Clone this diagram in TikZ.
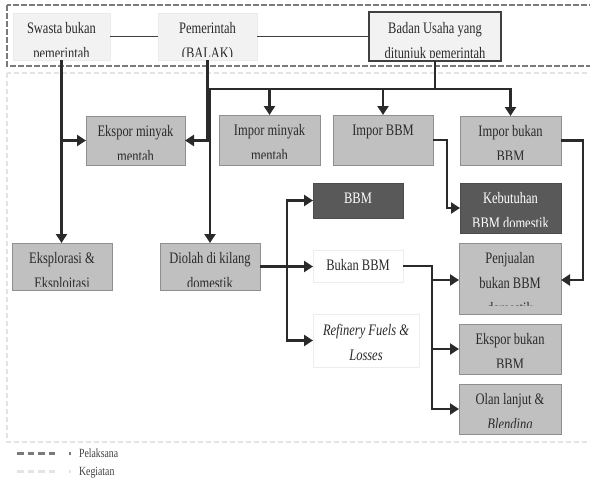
\documentclass[tikz,border=0pt]{standalone}
\usepackage{fontspec}
\setmainfont{Liberation Serif}[FakeStretch=0.78]
\usetikzlibrary{arrows.meta}
\definecolor{lightbox}{HTML}{F2F2F2}
\definecolor{midbox}{HTML}{C0C0C0}
\definecolor{midedge}{HTML}{8F8F8F}
\definecolor{boxdark}{HTML}{595959}
\definecolor{lineclr}{HTML}{2A2A2A}
\definecolor{txtclr}{HTML}{2A2A2A}
\definecolor{pelclr}{HTML}{7A7A7A}
\definecolor{kegclr}{HTML}{E4E4E4}
\tikzset{
  base box/.style={anchor=north west, inner sep=0pt, outer sep=0pt},
  topbox/.style={base box, fill=lightbox, draw=lightbox!97!black, line width=0.6pt},
  topbox edge/.style={base box, fill=lightbox, draw=black!75, line width=1.2pt},
  graybox/.style={base box, fill=midbox, draw=midedge, line width=1pt},
  darkbox/.style={base box, fill=boxdark, draw=black!70, line width=1pt},
  whitebox/.style={base box, fill=white, draw=black!7, line width=1pt},
  txt/.style={anchor=base, inner sep=0pt, text=txtclr, font=\fontsize{16}{18}\selectfont},
  wtxt/.style={txt, text=white},
  itxt/.style={txt, font=\fontsize{16}{18}\selectfont\itshape},
  legtxt/.style={anchor=base west, inner sep=0pt, text=black!75, font=\fontsize{12.5}{14}\selectfont},
  conn/.style={draw=lineclr, line width=2.7pt},
  arr/.style={conn, -{Triangle[length=9pt,width=11pt]}},
  thinline/.style={draw=black!75, line width=1.2pt},
}
\newcommand{\mkbox}[6]{\node[#6, minimum width=#4pt, minimum height=#5pt] (#1) at (#2,#3) {};}
\newcommand{\twolines}[4]{%
  \begin{scope}
    \clip (#1.north west) rectangle ([yshift=-43.5pt]#1.north east);
    \node[#4] (#1-a) at ([yshift=-20pt]#1.north) {#2};
    \node[#4] (#1-b) at ([yshift=-45pt]#1.north) {#3};
  \end{scope}}
\newcommand{\oneline}[3]{\node[#3] (#1-a) at ([yshift=-20pt]#1.north) {#2};}
\begin{document}
\begin{tikzpicture}[x=1pt,y=-1pt]
\useasboundingbox (0,0) rectangle (590,479);
\clip (0,0) rectangle (590,479);
\fill[white] (0,0) rectangle (590,479);

% frames
\draw[pelclr, line width=2.2pt, dash pattern=on 6pt off 2pt] (7,5) rectangle (600,66);
\draw[kegclr, line width=2pt, dash pattern=on 5pt off 3pt] (7,73) rectangle (600,442);

% boxes
\mkbox{swasta}{13}{13}{97}{47}{topbox}
\mkbox{pem}{158}{13}{99}{47}{topbox}
\mkbox{badan}{369}{12}{132}{49}{topbox edge}
\mkbox{eksmin}{86}{116}{99}{49}{graybox}
\mkbox{impmin}{219}{115}{101}{50}{graybox}
\mkbox{impbbm}{333}{115}{100}{50}{graybox}
\mkbox{impbuk}{460}{116}{101}{49}{graybox}
\mkbox{bbm}{313}{183}{90}{35}{darkbox}
\mkbox{kebut}{460}{183}{101}{50}{darkbox}
\mkbox{eksplor}{12}{243}{100}{47}{graybox}
\mkbox{diolah}{160}{243}{100}{47}{graybox}
\mkbox{bukan}{313}{250}{90}{32}{whitebox}
\mkbox{penj}{459}{243}{102}{71}{graybox}
\mkbox{refin}{313}{314}{106}{53}{whitebox}
\mkbox{eksbuk}{459}{324}{102}{50}{graybox}
\mkbox{olan}{459}{384}{102}{50}{graybox}

% texts
\twolines{swasta}{Swasta bukan}{pemerintah}{txt}
\twolines{pem}{Pemerintah}{(BALAK)}{txt}
\begin{scope}
  \clip (badan.north west) rectangle ([yshift=-45pt]badan.north east);
  \node[txt] (badan-a) at ([yshift=-21pt]badan.north) {Badan Usaha yang};
  \node[txt] (badan-b) at ([yshift=-46.5pt]badan.north) {ditunjuk pemerintah};
\end{scope}
\twolines{eksmin}{Ekspor minyak}{mentah}{txt}
\twolines{impmin}{Impor minyak}{mentah}{txt}
\oneline{impbbm}{Impor BBM}{txt}
\twolines{impbuk}{Impor bukan}{BBM}{txt}
\oneline{bbm}{BBM}{wtxt}
\twolines{kebut}{Kebutuhan}{BBM domestik}{wtxt}
\twolines{eksplor}{Eksplorasi \&}{Eksploitasi}{txt}
\twolines{diolah}{Diolah di kilang}{domestik}{txt}
\oneline{bukan}{Bukan BBM}{txt}
\begin{scope}
  \clip (penj.north west) rectangle ([yshift=-62pt]penj.north east);
  \node[txt] (penj-a) at ([yshift=-20pt]penj.north) {Penjualan};
  \node[txt] (penj-b) at ([yshift=-45pt]penj.north) {bukan BBM};
  \node[txt] (penj-c) at ([yshift=-70pt]penj.north) {domestik};
\end{scope}
\node[itxt] (refin-a) at ([yshift=-21pt]refin.north) {Refinery Fuels \&};
\node[itxt] (refin-b) at ([yshift=-46pt]refin.north) {Losses};
\twolines{eksbuk}{Ekspor bukan}{BBM}{txt}
\begin{scope}
  \clip (olan.north west) rectangle ([yshift=-43.5pt]olan.north east);
  \node[txt] (olan-a) at ([yshift=-20pt]olan.north) {Olan lanjut \&};
  \node[itxt] (olan-b) at ([yshift=-45pt]olan.north) {Blending};
\end{scope}

% top thin connectors
\draw[thinline] (swasta.east) -- (pem.west);
\draw[thinline] (pem.east) -- (badan.west);

% swasta
\draw[arr] (swasta.south) -- (swasta.south |- eksplor.north);
\draw[arr] (swasta.south |- eksmin.west) -- (eksmin.west);
% pemerintah
\draw[arr] (pem.south) |- (eksmin.east);
% badan usaha bus
\coordinate (bus) at (435,89);
\draw[conn] (badan.south) -- (bus);
\draw[conn, line cap=rect] (diolah.north |- bus) -- (impbuk.north |- bus);
\draw[arr] (diolah.north |- bus) -- (diolah.north);
\draw[arr] (impmin.north |- bus) -- (impmin.north);
\draw[arr] (impbbm.north |- bus) -- (impbbm.north);
\draw[arr] (impbuk.north |- bus) -- (impbuk.north);
% entry points of Penjualan
\coordinate (penjW) at ([yshift=-1.5pt]penj.west);
\coordinate (penjE) at ([yshift=-1.5pt]penj.east);
% imports to demand
\draw[arr] (impbbm.east) -- ++(14,0) |- (kebut.west);
\draw[arr] (impbuk.east) -- ++(22,0) |- (penjE);
% refinery outputs
\coordinate (jd) at (287,266);
\draw[arr] (diolah.east) -- (diolah.east -| bukan.west);
\draw[conn, line cap=rect] (jd |- bbm.west) -- (jd |- refin.west);
\draw[arr] (jd |- bbm.west) -- (bbm.west);
\draw[arr] (jd |- refin.west) -- (refin.west);
% non-BBM
\coordinate (jb) at (432,266);
\draw[conn] (bukan.east) -- (bukan.east -| jb);
\draw[conn, line cap=rect] (jb |- bukan.east) -- (jb |- olan.west);
\draw[arr] (jb |- penjW) -- (penjW);
\draw[arr] (jb |- eksbuk.west) -- (eksbuk.west);
\draw[arr] (jb |- olan.west) -- (olan.west);

% legend
\coordinate (lp1) at (17,453);
\coordinate (lp2) at (72,453);
\coordinate (lk1) at (17,471);
\coordinate (lk2) at (72,471);
\draw[pelclr, line width=3pt, dash pattern=on 6.5pt off 4pt on 6.5pt off 4pt on 6.5pt off 4pt on 6.5pt off 14pt on 1.7pt off 40pt] (lp1) -- (lp2);
\draw[kegclr, line width=3pt, dash pattern=on 6.5pt off 4pt on 6.5pt off 4pt on 6.5pt off 4pt on 6.5pt off 14pt on 1.7pt off 40pt] (lk1) -- (lk2);
\node[legtxt] (lgp) at (79,457) {Pelaksana};
\node[legtxt] (lgk) at (79,475) {Kegiatan};
\end{tikzpicture}
\end{document}
